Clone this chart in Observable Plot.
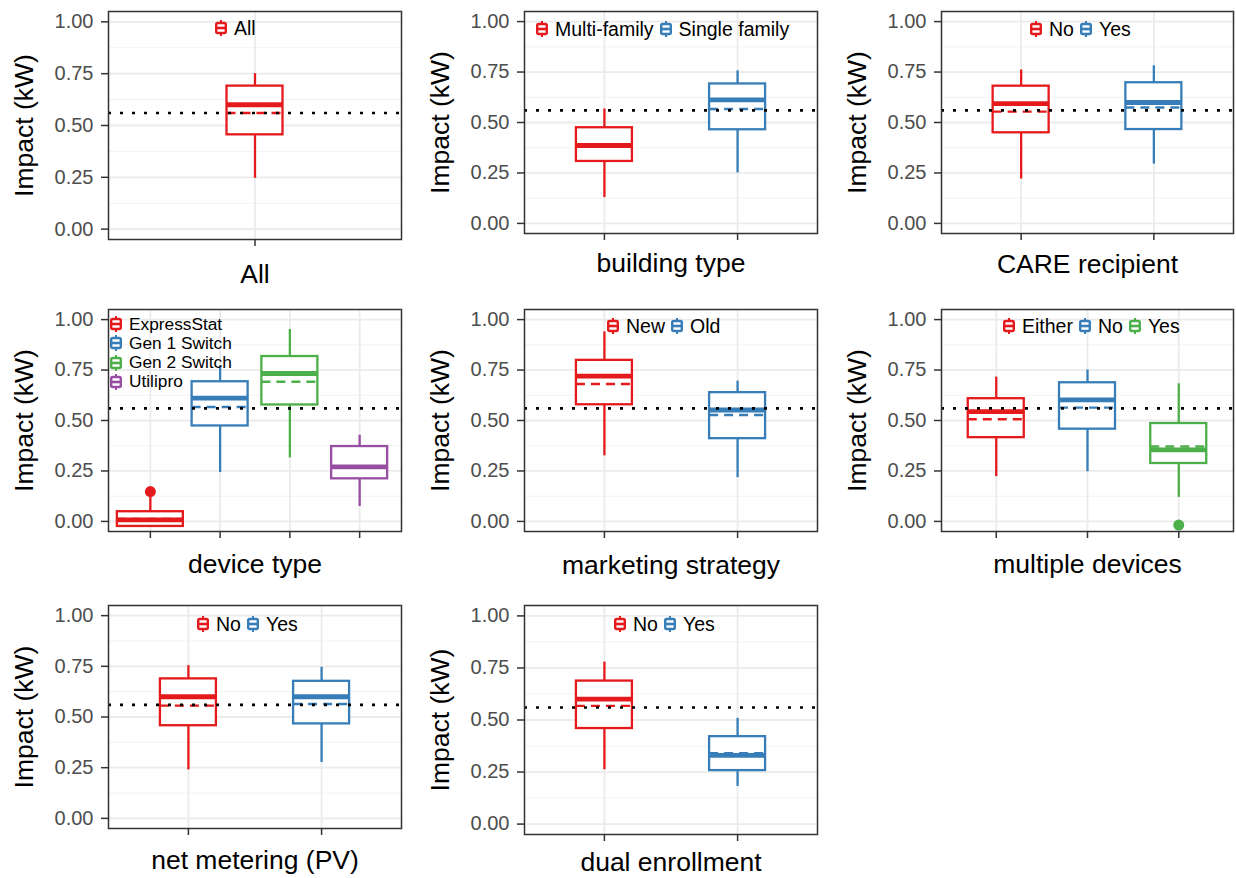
<!DOCTYPE html>
<html>
<head>
<meta charset="utf-8">
<script src="https://cdn.jsdelivr.net/npm/d3@7"></script>
<script src="https://cdn.jsdelivr.net/npm/@observablehq/plot@0.6"></script>
<style>
  html, body { margin: 0; padding: 0; background: #fff; }
  #root { position: relative; width: 1236px; height: 878px; background: #fff; overflow: hidden;
          font-family: "Liberation Sans", Arial, Helvetica, sans-serif; }
  .panel { position: absolute; }
  .legend { position: absolute; display: flex; align-items: center; color: #000; white-space: nowrap; }
  .legend .item { display: flex; align-items: center; margin-right: 6px; }
  .legend svg { margin-right: 7px; display: block; }
</style>
</head>
<body>
<div id="root"></div>
<script>
// ---------------- data ----------------
const panelTitles = ["All", "building type", "CARE recipient", "device type",
                     "marketing strategy", "multiple devices", "net metering (PV)", "dual enrollment"];
const groups = [
  ["All"],
  ["Multi-family", "Single family"],
  ["No", "Yes"],
  ["ExpressStat", "Gen 1 Switch", "Gen 2 Switch", "Utilipro"],
  ["New", "Old"],
  ["Either", "No", "Yes"],
  ["No", "Yes"],
  ["No", "Yes"]
];
const whiskerLow  = [[0.245], [0.128, 0.250], [0.220, 0.294], [-0.030, 0.242, 0.315, 0.074], [0.325, 0.217], [0.222, 0.246, 0.119], [0.239, 0.276], [0.261, 0.181]];
const quartile1   = [[0.455], [0.307, 0.464], [0.449, 0.465], [-0.025, 0.473, 0.577, 0.211], [0.578, 0.410], [0.415, 0.457, 0.287], [0.457, 0.466], [0.459, 0.257]];
const medians     = [[0.600], [0.386, 0.612], [0.594, 0.599], [0.008, 0.611, 0.733, 0.270], [0.720, 0.552], [0.544, 0.602, 0.354], [0.600, 0.600], [0.600, 0.330]];
const quartile3   = [[0.690], [0.474, 0.691], [0.680, 0.697], [0.048, 0.692, 0.817, 0.371], [0.798, 0.638], [0.608, 0.687, 0.485], [0.688, 0.676], [0.687, 0.420]];
const whiskerHigh = [[0.750], [0.567, 0.756], [0.760, 0.781], [0.120, 0.770, 0.951, 0.427], [0.939, 0.695], [0.715, 0.750, 0.682], [0.753, 0.745], [0.778, 0.508]];
const means       = [[0.560], [0.385, 0.567], [0.554, 0.574], [0.012, 0.567, 0.692, 0.272], [0.681, 0.527], [0.506, 0.564, 0.371], [0.556, 0.564], [0.568, 0.340]];
const outliers    = [[[]], [[], []], [[], []], [[0.148], [], [], []], [[], []], [[], [], [-0.018]], [[], []], [[], []]];
const overallMean = 0.56;
const yTicks = [0, 0.25, 0.5, 0.75, 1];
const yMinorTicks = [0.125, 0.375, 0.625, 0.875];
const palette = ["#E41A1C", "#377EB8", "#4DAF4A", "#984EA3"];
const yLabel = "Impact (kW)";

// ---------------- layout ----------------
const layout = [
  {left: 0,   top: 0,   w: 410, h: 290, ml: 108, pw: 293, mt: 11, mb: 51, tdy: 43, leg: {x: 215, y: 28}},
  {left: 410, top: 0,   w: 420, h: 290, ml: 114, pw: 293, mt: 11, mb: 57, tdy: 38, leg: {x: 536, y: 29}},
  {left: 830, top: 0,   w: 406, h: 290, ml: 111, pw: 292, mt: 11, mb: 57, tdy: 39, leg: {x: 1030, y: 29}},
  {left: 0,   top: 295, w: 410, h: 290, ml: 108, pw: 293, mt: 14, mb: 54, tdy: 41, leg: {x: 110, y: 324, vertical: true, fs: 17.3}},
  {left: 410, top: 295, w: 420, h: 290, ml: 114, pw: 293, mt: 14, mb: 54, tdy: 42, leg: {x: 607, y: 326}},
  {left: 830, top: 295, w: 406, h: 290, ml: 111, pw: 292, mt: 14, mb: 54, tdy: 41, leg: {x: 1003, y: 326}},
  {left: 0,   top: 590, w: 410, h: 288, ml: 108, pw: 293, mt: 15, mb: 50, tdy: 40, leg: {x: 197, y: 624}},
  {left: 410, top: 590, w: 420, h: 288, ml: 114, pw: 293, mt: 15, mb: 44, tdy: 36, leg: {x: 614, y: 624}}
];

const root = document.getElementById("root");
const FONT = "'Liberation Sans', Arial, Helvetica, sans-serif";

function keySvg(c) {
  return `<svg width="12" height="16" viewBox="0 0 12 16">
    <line x1="6" y1="0" x2="6" y2="3" stroke="${c}" stroke-width="2"/>
    <line x1="6" y1="13" x2="6" y2="16" stroke="${c}" stroke-width="2"/>
    <rect x="1.2" y="3" width="9.6" height="10" rx="1.5" fill="#fff" stroke="${c}" stroke-width="2.4"/>
    <line x1="1" y1="8" x2="11" y2="8" stroke="${c}" stroke-width="2.6"/>
  </svg>`;
}

panelTitles.forEach((title, p) => {
  const L = layout[p];
  const gs = groups[p];
  const n = gs.length;
  const colors = palette.slice(0, n);
  const rows = gs.map((g, k) => ({
    i: k + 1, group: g,
    lo: whiskerLow[p][k], q1: quartile1[p][k], med: medians[p][k],
    q3: quartile3[p][k], hi: whiskerHigh[p][k], mean: means[p][k]
  }));
  const outRows = [];
  gs.forEach((g, k) => outliers[p][k].forEach(v => outRows.push({i: k + 1, group: g, v})));
  const positions = rows.map(d => d.i);
  const step = L.pw / (n + 0.2);
  const halfW = d => (d.group === "ExpressStat" ? 33 : 28) / step;

  const chart = Plot.plot({
    width: L.w, height: L.h,
    marginLeft: L.ml, marginRight: L.w - L.ml - L.pw,
    marginTop: L.mt, marginBottom: L.mb,
    style: {fontFamily: FONT, fontSize: "19.5px", background: "#fff", color: "#000", overflow: "visible"},
    x: {type: "linear", domain: [0.4, n + 0.6]},
    y: {domain: [-0.05, 1.05]},
    color: {domain: gs, range: colors},
    marks: [
      Plot.ruleY(yMinorTicks, {stroke: "#F2F2F2", strokeWidth: 1}),
      Plot.ruleY(yTicks, {stroke: "#EBEBEB", strokeWidth: 1.8}),
      Plot.ruleX(positions, {stroke: "#EBEBEB", strokeWidth: 1.8}),
      Plot.ruleX(rows, {x: "i", y1: "q3", y2: "hi", stroke: "group", strokeWidth: 2.3}),
      Plot.ruleX(rows, {x: "i", y1: "lo", y2: "q1", stroke: "group", strokeWidth: 2.3}),
      Plot.rect(rows, {x1: d => d.i - halfW(d), x2: d => d.i + halfW(d), y1: "q1", y2: "q3",
                       fill: "#fff", stroke: "group", strokeWidth: 2.3}),
      Plot.ruleY(rows, {y: "med", x1: d => d.i - halfW(d), x2: d => d.i + halfW(d), stroke: "group", strokeWidth: 4.8}),
      Plot.ruleY(rows, {y: "mean", x1: d => d.i - halfW(d), x2: d => d.i + halfW(d), stroke: "group",
                        strokeWidth: 2.4, strokeDasharray: "9,6"}),
      Plot.dot(outRows, {x: "i", y: "v", fill: "group", r: 5.5}),
      Plot.ruleY([overallMean], {stroke: "#000", strokeWidth: 2.6, strokeDasharray: "3,9"}),
      Plot.frame({stroke: "#333", strokeWidth: 1.5}),
      Plot.axisY(yTicks, {tickFormat: d => d.toFixed(2), tickSize: 7, tickPadding: 8, fontSize: 20,
                          stroke: "#333", fill: "#4D4D4D", strokeWidth: 1.5, label: null}),
      Plot.axisX(positions, {tickFormat: () => "", tickSize: 7, stroke: "#333", strokeWidth: 1.5, label: null}),
      Plot.text([title], {frameAnchor: "bottom", dy: L.tdy, lineAnchor: "bottom", textAnchor: "middle", fontSize: 26.5, fill: "#000"}),
      Plot.text([yLabel], {frameAnchor: "left", dx: -84, rotate: -90, textAnchor: "middle", fontSize: 26.5, fill: "#000"})
    ]
  });
  const wrap = document.createElement("div");
  wrap.className = "panel";
  wrap.style.left = L.left + "px";
  wrap.style.top = L.top + "px";
  wrap.appendChild(chart);
  root.appendChild(wrap);

  // legend
  const fs = L.leg.fs || 19.5;
  if (L.leg.vertical) {
    gs.forEach((g, k) => {
      const lg = document.createElement("div");
      lg.className = "legend";
      lg.style.left = L.leg.x + "px";
      lg.style.top = (L.leg.y + k * 19.3 - 10) + "px";
      lg.style.height = "20px";
      lg.style.fontSize = fs + "px";
      lg.innerHTML = `<div class="item">${keySvg(colors[k])}<span>${g}</span></div>`;
      root.appendChild(lg);
    });
  } else {
    const lg = document.createElement("div");
    lg.className = "legend";
    lg.style.left = L.leg.x + "px";
    lg.style.top = (L.leg.y - 10) + "px";
    lg.style.height = "20px";
    lg.style.fontSize = fs + "px";
    lg.innerHTML = gs.map((g, k) => `<div class="item">${keySvg(colors[k])}<span>${g}</span></div>`).join("");
    root.appendChild(lg);
  }
});
</script>
</body>
</html>
